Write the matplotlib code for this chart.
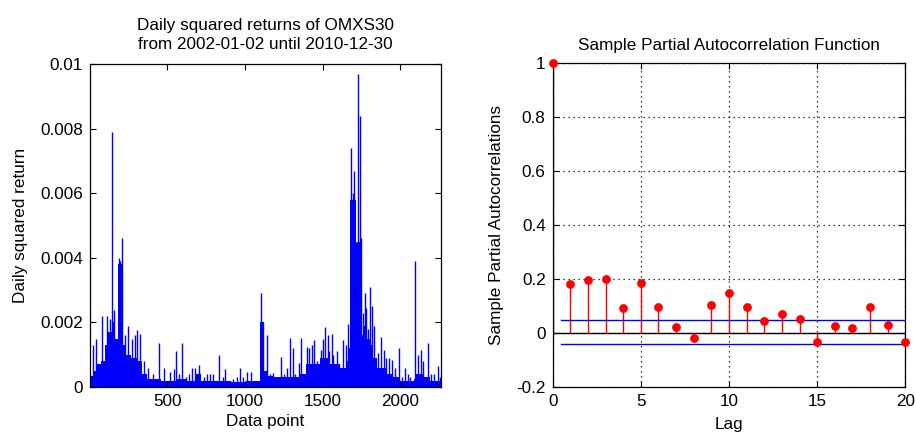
import matplotlib
matplotlib.use("Agg")
import matplotlib.pyplot as plt
import numpy as np

plt.rcParams['font.family'] = ['Liberation Sans', 'DejaVu Sans']
FS = 12.3

# ---------------- Left panel data ----------------
n_points = 2263
# dense "floor" of the squared-return series: segment start index and level
floor_start = [1, 20, 46, 71, 97, 110, 142, 161, 181, 206, 226, 264, 309, 335, 367,
               457, 554, 618, 682, 714, 907, 1004, 1097, 1119, 1145, 1177, 1261,
               1357, 1390, 1486, 1550, 1615, 1653, 1673, 1679, 1713, 1724, 1750,
               1763, 1782, 1808, 1827, 1853, 1878, 1910, 1955, 2000, 2090, 2103,
               2154, 2193]
floor_level = [0.00035, 0.0005, 0.0007, 0.0008, 0.0013, 0.0017, 0.002, 0.0015, 0.0038,
               0.0013, 0.001, 0.0009, 0.0008, 0.0004, 0.00025, 0.0002, 0.00025, 0.0002,
               0.0004, 0.0002, 0.00015, 0.0002, 0.002, 0.0005, 0.00035, 0.0003, 0.0003,
               0.0004, 0.0007, 0.0009, 0.0007, 0.0006, 0.0008, 0.0012, 0.0058, 0.0038,
               0.0045, 0.0016, 0.0019, 0.0015, 0.0013, 0.0009, 0.0006, 0.0006, 0.0004,
               0.0003, 0.0002, 0.00025, 0.0004, 0.0003, 0.0002]
# individual spikes: data index and squared return
spike_idx = [22, 42, 76, 113, 129, 142, 158, 185, 194, 204, 229, 248, 271, 290, 305,
             320, 348, 374, 406, 444, 476, 515, 541, 554, 573, 595, 618, 637, 656, 676,
             706, 734, 753, 775, 791, 830, 856, 873, 901, 920, 946, 965, 984, 1012,
             1040, 1068, 1105, 1116, 1142, 1164, 1177, 1197, 1231, 1248, 1269, 1291,
             1308, 1325, 1345, 1362, 1377, 1398, 1409, 1430, 1447, 1466, 1490, 1505,
             1516, 1533, 1544, 1559, 1569, 1591, 1608, 1634, 1651, 1666, 1685, 1695,
             1705, 1717, 1730, 1739, 1750, 1759, 1771, 1782, 1791, 1804, 1818, 1833,
             1854, 1876, 1893, 1910, 1925, 1947, 1968, 1991, 2010, 2032, 2049, 2065,
             2098, 2113, 2132, 2148, 2179, 2200, 2219, 2241, 2257]
spike_val = [0.0013, 0.0015, 0.0022, 0.0022, 0.0021, 0.0079, 0.0024, 0.0040, 0.0039,
             0.0046, 0.0016, 0.0019, 0.0015, 0.0016, 0.00175, 0.00165, 0.0008, 0.0006,
             0.0004, 0.00136, 0.0006, 0.00047, 0.00055, 0.0011, 0.0004, 0.00135, 0.0003,
             0.0004, 0.0006, 0.0006, 0.00068, 0.0003, 0.0004, 0.0004, 0.0004, 0.001,
             0.0003, 0.00057, 0.0002, 0.00025, 0.0003, 0.0006, 0.0003, 0.00047, 0.00047,
             0.0002, 0.0029, 0.0020, 0.0016, 0.0004, 0.00043, 0.0003, 0.00094, 0.0004,
             0.0006, 0.00153, 0.0012, 0.0004, 0.00074, 0.00153, 0.0004, 0.00125, 0.0012,
             0.0013, 0.00146, 0.0008, 0.00115, 0.0015, 0.00187, 0.0016, 0.0011, 0.00163,
             0.001, 0.0011, 0.0007, 0.00146, 0.0013, 0.00194, 0.0074, 0.0060, 0.0067,
             0.0045, 0.0097, 0.0084, 0.0046, 0.0023, 0.0029, 0.00245, 0.0018, 0.0031,
             0.0025, 0.0019, 0.00105, 0.00156, 0.00114, 0.0009, 0.0009, 0.00083, 0.0006,
             0.0012, 0.0003, 0.0006, 0.0004, 0.0003, 0.0039, 0.001, 0.00116, 0.0008,
             0.00135, 0.0004, 0.0004, 0.00065, 0.0003]

# ---------------- Right panel data ----------------
lags = list(range(0, 21))
pacf = [1.0, 0.18, 0.195, 0.20, 0.09, 0.185, 0.097, 0.02, -0.02, 0.102, 0.148,
        0.097, 0.045, 0.07, 0.052, -0.035, 0.025, 0.016, 0.097, 0.03, -0.036]
bound_upper = 0.046
bound_lower = -0.041

fig = plt.figure(figsize=(9.15, 4.34), dpi=100)

# ---------------- Left axes ----------------
ax1 = fig.add_axes([0.0984, 0.1083, 0.3836, 0.744])
fx = np.array(floor_start + [n_points], dtype=float)
fy = np.array(floor_level + [floor_level[-1]])
ax1.fill_between(fx, 0, fy, step='post', color='#0000ff', linewidth=0)
ax1.vlines(spike_idx, 0, spike_val, colors='#0000ff', linewidth=1.0)
ax1.set_xlim(1, n_points)
ax1.set_ylim(0, 0.01)
ax1.set_xticks([500, 1000, 1500, 2000])
ax1.set_yticks([0, 0.002, 0.004, 0.006, 0.008, 0.01])
ax1.set_yticklabels(['0', '0.002', '0.004', '0.006', '0.008', '0.01'])
ax1.set_title('Daily squared returns of OMXS30\nfrom 2002-01-02 until 2010-12-30',
              fontsize=FS, linespacing=1.3, pad=11)
ax1.set_xlabel('Data point', fontsize=FS, labelpad=4)
ax1.set_ylabel('Daily squared return', fontsize=FS, labelpad=9)

# ---------------- Right axes ----------------
ax2 = fig.add_axes([0.604, 0.109, 0.3854, 0.7465])
ax2.set_xlim(0, 20)
ax2.set_ylim(-0.2, 1.0)
ax2.set_xticks([0, 5, 10, 15, 20])
ax2.set_yticks([-0.2, 0, 0.2, 0.4, 0.6, 0.8, 1.0])
ax2.set_yticklabels(['-0.2', '0', '0.2', '0.4', '0.6', '0.8', '1'])
ax2.grid(True, color='black', linestyle=(0, (1, 3)), linewidth=0.9)
ax2.set_axisbelow(True)
ax2.plot([0, 20], [0, 0], color='black', linewidth=1.0, zorder=2)
ax2.vlines(lags, 0, pacf, colors='red', linewidth=1.0, zorder=2.1)
ax2.plot(lags, pacf, linestyle='none', marker='o', markersize=5.3,
         markerfacecolor='red', markeredgecolor='red', clip_on=False, zorder=4)
ax2.plot([0.5, 20], [bound_upper, bound_upper], color='#0000ff', linewidth=1.0, zorder=3)
ax2.plot([0.5, 20], [bound_lower, bound_lower], color='#0000ff', linewidth=1.0, zorder=3)
ax2.set_title('Sample Partial Autocorrelation Function', fontsize=FS, pad=9)
ax2.set_xlabel('Lag', fontsize=FS, labelpad=6)
ax2.set_ylabel('Sample Partial Autocorrelations', fontsize=FS, labelpad=9)

for ax in (ax1, ax2):
    ax.tick_params(direction='in', length=4, width=0.8, labelsize=FS,
                   top=True, right=True, pad=5)
    for sp in ax.spines.values():
        sp.set_linewidth(0.9)
        sp.set_color('black')
        sp.set_zorder(3)

fig.savefig('out.png', dpi=100)
